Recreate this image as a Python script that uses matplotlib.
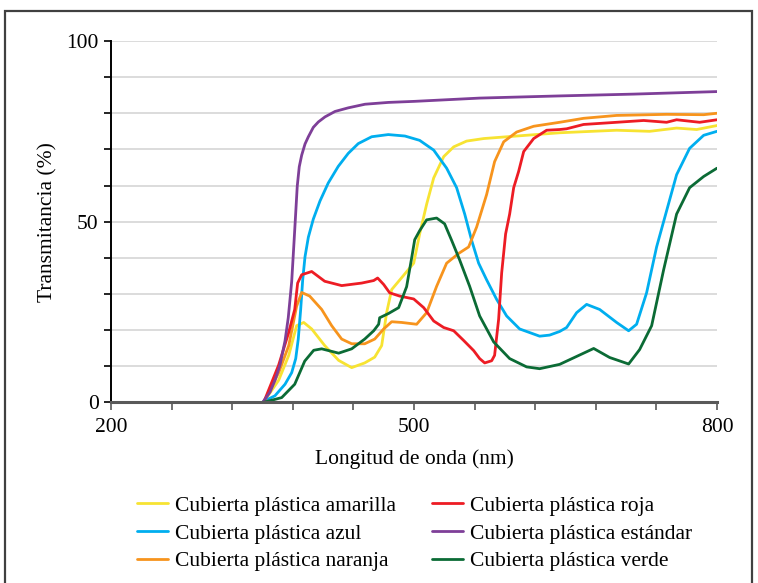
import matplotlib
matplotlib.use("Agg")
import matplotlib.pyplot as plt
from matplotlib.patches import Rectangle

plt.rcParams['font.family'] = ['Liberation Serif', 'DejaVu Serif']

# Data (wavelength nm, transmittance %)
amarilla_x = [351, 366, 376, 383.8, 390.8, 398.7, 411.6, 425.4, 438.3, 451.2, 461.1, 468, 472.9, 477.9, 487.8, 499.7, 505.6, 512.5, 519.5, 529.4, 539.3, 552.1, 569, 601.6, 644.2, 700.6, 733.3, 760, 779.8, 800]
amarilla_y = [0, 6.1, 13, 21.2, 22.1, 20.3, 15.7, 11.6, 9.6, 10.9, 12.5, 15.7, 24.8, 31.2, 34.5, 38.5, 46.6, 54.8, 62.1, 68, 70.7, 72.3, 73, 73.7, 74.6, 75.3, 75, 75.9, 75.5, 76.6]

azul_x = [350.7, 362.3, 372.3, 378.9, 382.9, 385.4, 387.8, 389.8, 392.1, 395.4, 400.3, 406.9, 415.1, 425, 434.9, 444.8, 458.1, 474.5, 491, 505.6, 519.5, 532.3, 542.2, 550.2, 557.1, 564, 571.9, 581.8, 591.7, 604.6, 624.4, 634.3, 644.2, 651.1, 661, 670.9, 683.8, 700.6, 712.5, 720.4, 730.3, 740.2, 750.1, 760, 772.9, 786.8, 800]
azul_y = [0.2, 1.8, 5, 8.2, 12.1, 17.5, 25.7, 33.9, 40.3, 45.7, 50.7, 55.7, 60.7, 65.3, 68.9, 71.6, 73.5, 74.1, 73.7, 72.5, 69.8, 64.8, 59.4, 52.1, 44.8, 38.5, 33.9, 28.5, 23.9, 20.3, 18.3, 18.6, 19.6, 20.7, 24.8, 27.1, 25.7, 22.1, 19.8, 21.6, 30.3, 43, 53, 63, 70.3, 73.9, 75]

naranja_x = [351.2, 366, 376, 383.8, 388.8, 396.7, 408.6, 418.5, 428.4, 438.3, 451.2, 461.1, 470, 477.9, 487.8, 502.6, 512.5, 522.4, 532.3, 544.2, 554.1, 562, 571.9, 579.8, 588.8, 601.6, 618.5, 644.2, 667.9, 700.6, 750.1, 786.8, 800]
naranja_y = [0, 8.2, 15.7, 26.6, 30.4, 29.4, 25.7, 21.2, 17.5, 16.2, 16.2, 17.5, 20.3, 22.3, 22.1, 21.6, 24.8, 32.1, 38.5, 41.2, 43, 48.5, 57.5, 66.6, 72.1, 74.8, 76.4, 77.5, 78.6, 79.4, 79.7, 79.6, 80]

roja_x = [351.2, 366, 376, 381.9, 384.8, 388.8, 398.7, 411.6, 428.4, 448.2, 460.1, 464, 470, 475.9, 485.8, 499.7, 509.6, 519.5, 529.4, 539.3, 549.2, 559.1, 565, 570, 576.9, 579.8, 583.8, 586.8, 590.7, 594.7, 598.7, 603.6, 608.6, 618.5, 631.3, 644.2, 651.1, 667.9, 700.6, 727.4, 750.1, 760, 782.8, 800]
roja_y = [0, 10.3, 19.4, 25.7, 33, 35.3, 36.2, 33.5, 32.3, 33, 33.7, 34.4, 32.6, 30.3, 29.4, 28.6, 26.2, 22.5, 20.7, 19.8, 17.1, 14.3, 12.1, 10.9, 11.5, 13, 23, 35.8, 46.6, 52.1, 59.4, 63.9, 69.4, 73, 75.3, 75.5, 75.7, 76.9, 77.5, 78, 77.5, 78.2, 77.5, 78.2]

estandar_x = [350.7, 357.4, 362.4, 367.3, 372.3, 375.5, 378.9, 381.2, 382.9, 384.4, 386.4, 388.8, 392.1, 395.4, 400.3, 405.3, 411.9, 421.8, 434.9, 451.5, 474.5, 500.9, 565, 644.2, 717.5, 800]
estandar_y = [0.2, 2.8, 6.1, 10.3, 17.0, 23.4, 33.4, 44.3, 52.5, 59.8, 65.2, 68.4, 71.5, 73.5, 76.1, 77.6, 79.0, 80.5, 81.5, 82.5, 83.0, 83.3, 84.2, 84.8, 85.3, 86]

verde_x = [351.2, 369, 381.9, 391.8, 400.7, 408.6, 425.4, 438.3, 451.2, 460.1, 465, 466, 474.9, 484.8, 492.7, 497.7, 500.7, 505.6, 512.5, 522.4, 530.3, 537.3, 545.2, 555.1, 565, 578.9, 594.7, 611.5, 624.4, 644.2, 651.1, 677.9, 693.7, 712.5, 723.4, 735.3, 747.1, 760, 772.9, 786.8, 800]
verde_y = [0, 1.3, 5, 11.4, 14.4, 14.8, 13.6, 14.8, 17.5, 19.8, 21.6, 23.4, 24.6, 26.2, 32, 40, 45, 47.5, 50.5, 51, 49.4, 44.8, 39.4, 32.1, 23.9, 16.7, 12.1, 9.8, 9.3, 10.5, 11.4, 14.9, 12.4, 10.6, 14.6, 21.2, 36.6, 52.1, 59.4, 62.5, 64.8]

series = [
    ("Cubierta plástica amarilla", amarilla_x, amarilla_y, "#F7E332"),
    ("Cubierta plástica azul", azul_x, azul_y, "#00AEEF"),
    ("Cubierta plástica naranja", naranja_x, naranja_y, "#F7941D"),
    ("Cubierta plástica roja", roja_x, roja_y, "#ED1C24"),
    ("Cubierta plástica estándar", estandar_x, estandar_y, "#7E3F98"),
    ("Cubierta plástica verde", verde_x, verde_y, "#0B6B35"),
]

x_ticks = [200, 260, 320, 380, 440, 500, 560, 620, 680, 740, 800]
x_labels = {200: "200", 500: "500", 800: "800"}
y_ticks = [0, 10, 20, 30, 40, 50, 60, 70, 80, 90, 100]
y_labels = {0: "0", 50: "50", 100: "100"}

W, H = 758, 583
fig = plt.figure(figsize=(W / 100, H / 100), dpi=100)
ax = fig.add_axes([111 / W, 1 - 402.3 / H, (717 - 111) / W, (402.3 - 41) / H])

# outer frame
fig.patches.append(Rectangle((5 / W, -0.05), (752 - 5) / W, 1.05 - 11 / H,
                             transform=fig.transFigure, fill=False,
                             edgecolor="#404040", linewidth=1.6))

for name, xs, ys, c in series:
    ax.plot(xs, ys, color=c, lw=2.0, label=name, solid_joinstyle="round",
            solid_capstyle="round", zorder=3)

ax.set_xlim(200, 800)
ax.set_ylim(0, 100)
ax.set_xticks(x_ticks)
ax.set_xticklabels([x_labels.get(t, "") for t in x_ticks])
ax.set_yticks(y_ticks)
ax.set_yticklabels([y_labels.get(t, "") for t in y_ticks])
ax.yaxis.grid(True, color="#d9d9d9", lw=1.3, zorder=0)
ax.set_axisbelow(True)

for s in ["top", "right"]:
    ax.spines[s].set_visible(False)
ax.spines["left"].set_color("black")
ax.spines["left"].set_linewidth(1.4)
ax.spines["bottom"].set_color("#595959")
ax.spines["bottom"].set_linewidth(2.2)
ax.spines["bottom"].set_zorder(4)
ax.tick_params(axis="y", direction="out", length=5, width=1.2, color="black",
               labelsize=15.5, pad=4)
ax.tick_params(axis="x", direction="out", length=6, width=1.2, color="#595959",
               labelsize=15.5, pad=5)

ax.set_xlabel("Longitud de onda (nm)", fontsize=15.5, labelpad=9)
ax.set_ylabel("Transmitancia (%)", fontsize=15.5, labelpad=6)

handles, labels = ax.get_legend_handles_labels()
leg = fig.legend(handles, labels, ncol=2, loc="upper left",
                 bbox_to_anchor=(126 / W, 1 - 485 / H), frameon=False,
                 fontsize=15.5, handlelength=1.45, handletextpad=0.33,
                 columnspacing=1.65, labelspacing=0.36, borderpad=0)

fig.savefig("out.png", dpi=100)
